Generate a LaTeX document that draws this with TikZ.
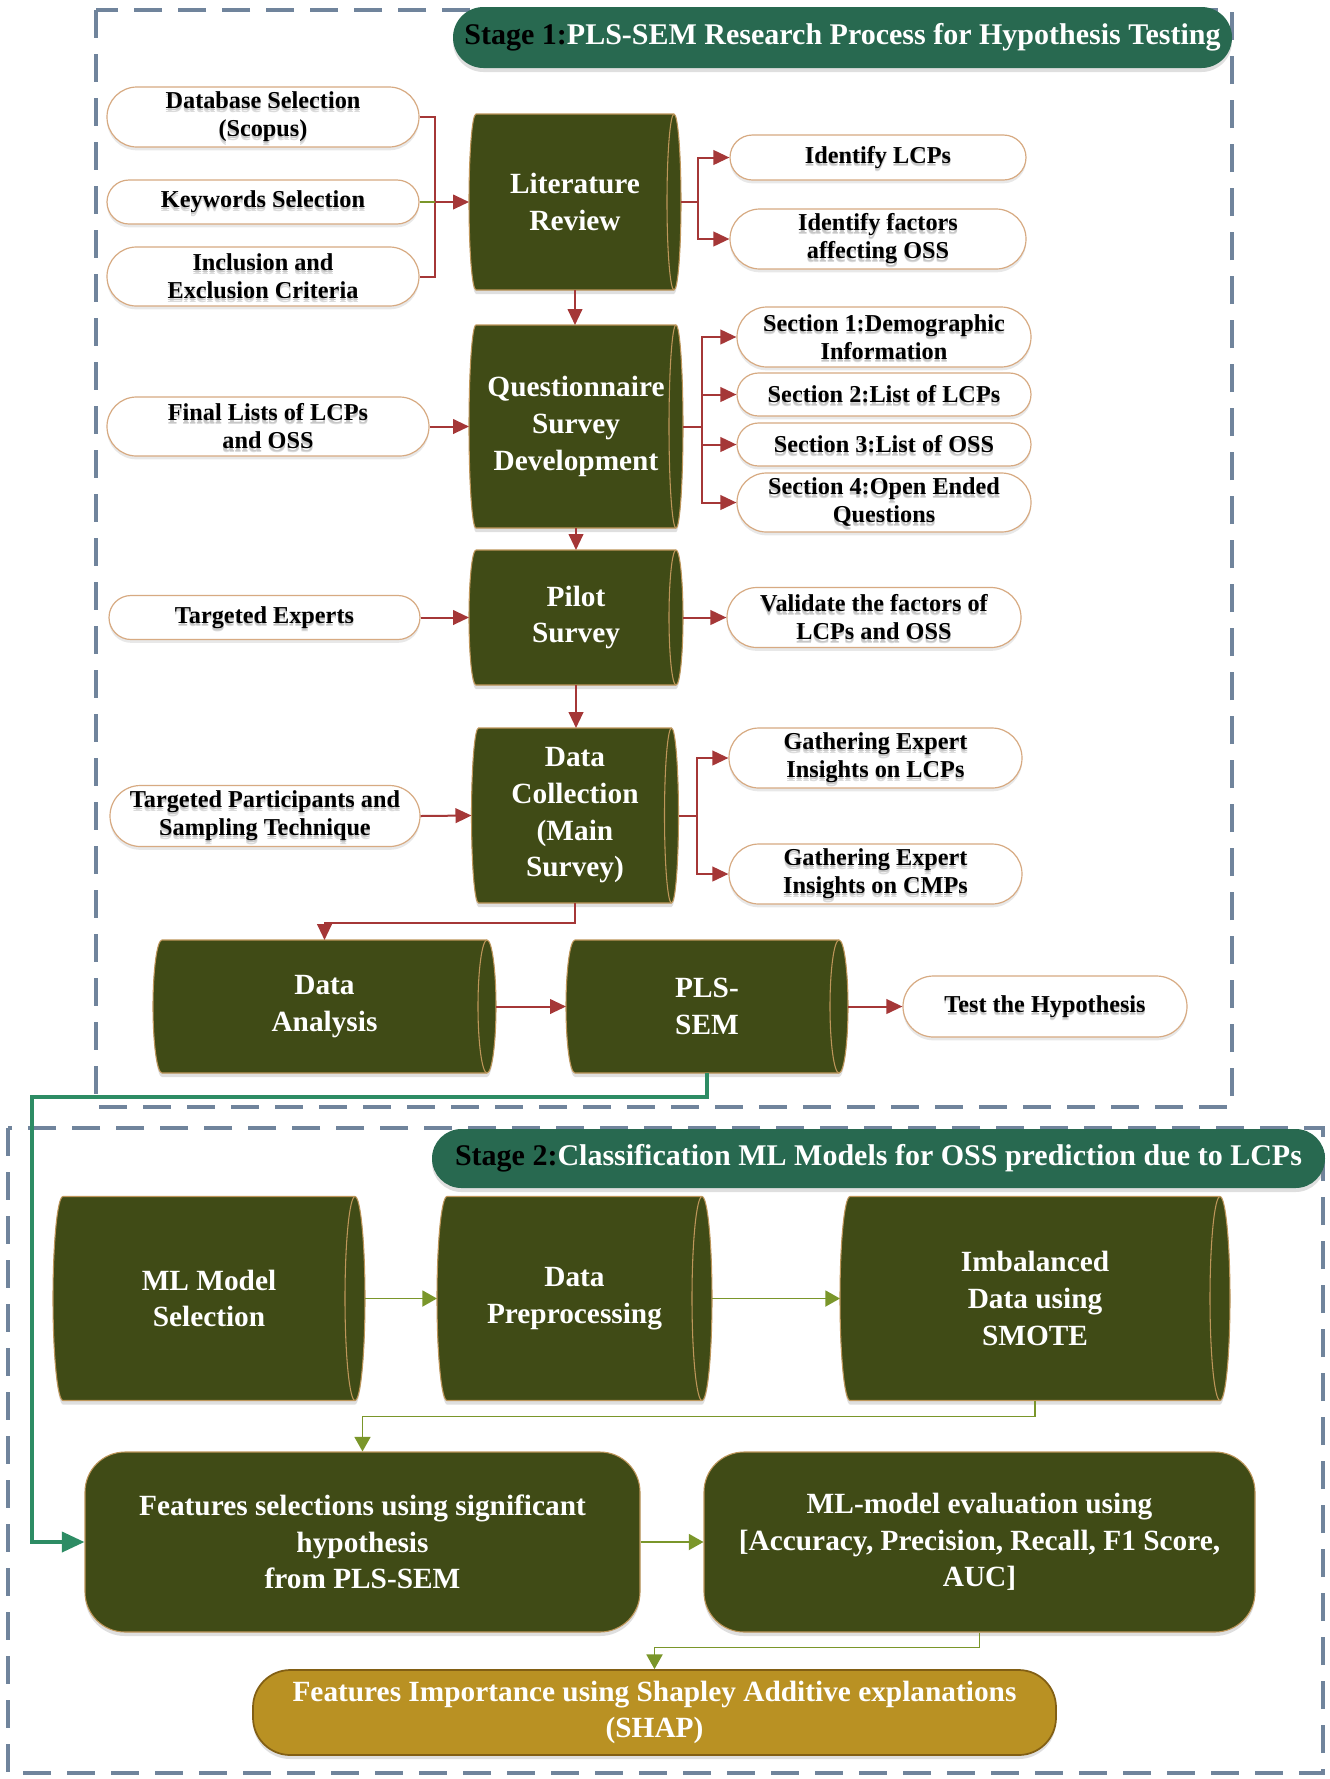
\documentclass[tikz,border=0pt]{standalone}
\usepackage{fontspec}
\setmainfont{Liberation Serif}
\usetikzlibrary{shapes.misc,arrows.meta,backgrounds,shadows}

\definecolor{cylfill}{RGB}{64,75,22}
\definecolor{tanrim}{RGB}{190,150,90}
\definecolor{pillrim}{RGB}{215,170,130}
\definecolor{flowred}{RGB}{165,55,55}
\definecolor{flowgreen}{RGB}{122,150,42}
\definecolor{linkteal}{RGB}{45,140,100}
\definecolor{stagegreen}{RGB}{40,105,80}
\definecolor{frameblue}{RGB}{112,132,156}
\definecolor{shapgold}{RGB}{185,145,35}
\definecolor{shaprim}{RGB}{130,95,20}

\newcommand\pilltext{\fontsize{18.2pt}{21pt}\selectfont\bfseries}
\newcommand\cyltext{\fontsize{22pt}{27.5pt}\selectfont\bfseries}
\newcommand\titletext{\fontsize{22.5pt}{27pt}\selectfont\bfseries}
% one line of dark text with a soft grey shadow beneath it
\newcommand\sline[1]{\leavevmode
  \rlap{\raisebox{-2.6pt}[0pt][0pt]{\color{black!14}#1}}%
  \rlap{\raisebox{-1.6pt}[0pt][0pt]{\color{black!22}#1}}#1}

% body of a lying cylinder behind a named node: name, end radius (px), half height (px)
\newcommand\drawcyl[3]{%
  \draw[cylbody] ([xshift=#2*0.75pt]#1.north west) -- ([xshift=-#2*0.75pt]#1.north east)
    arc[start angle=90,end angle=-90,x radius=#2*0.75pt,y radius=#3*0.75pt]
    -- ([xshift=#2*0.75pt]#1.south west)
    arc[start angle=270,end angle=90,x radius=#2*0.75pt,y radius=#3*0.75pt] -- cycle;
  \draw[cylrim] ([xshift=-#2*0.75pt]#1.north east)
    arc[start angle=90,end angle=270,x radius=#2*0.75pt,y radius=#3*0.75pt];
}

\tikzset{
  wd/.style={minimum width=#1*0.75pt},
  ht/.style={minimum height=#1*0.75pt},
  pill/.style={rounded rectangle, draw=pillrim, line width=0.9pt, fill=white,
    align=center, inner sep=0pt, font=\pilltext,
    drop shadow={shadow xshift=0pt, shadow yshift=-2.5pt, opacity=0.18}},
  cylnode/.style={rectangle, inner sep=0pt, outer sep=0pt, align=center,
    text=white, font=\cyltext},
  cylbody/.style={fill=cylfill, draw=tanrim, line width=0.8pt,
    drop shadow={shadow xshift=0pt, shadow yshift=-3pt, opacity=0.25}},
  cylrim/.style={draw=tanrim, line width=0.8pt},
  bigbox/.style={rectangle, rounded corners=30pt, fill=cylfill, draw=tanrim,
    line width=0.8pt, align=center, text=white, font=\cyltext, inner sep=0pt,
    drop shadow={shadow xshift=0pt, shadow yshift=-3pt, opacity=0.25}},
  shapbox/.style={rectangle, rounded corners=28pt, fill=shapgold, draw=shaprim,
    line width=1.3pt, align=center, text=white, font=\cyltext, inner sep=0pt,
    drop shadow={shadow xshift=0pt, shadow yshift=-3pt, opacity=0.25}},
  stagetitle/.style={rounded rectangle, fill=stagegreen, align=center, inner sep=0pt,
    text=white, font=\titletext,
    drop shadow={shadow xshift=0pt, shadow yshift=-3pt, opacity=0.25}},
  frame/.style={draw=frameblue, line width=2.6pt, dash pattern=on 21pt off 12pt},
  redline/.style={draw=flowred, line width=1.5pt},
  redarrow/.style={redline, -{Triangle[length=12pt,width=11pt]}},
  greenline/.style={draw=flowgreen, line width=1.4pt},
  greenarrow/.style={greenline, -{Triangle[length=11pt,width=12pt]}},
  tealarrow/.style={draw=linkteal, line width=3pt, -{Triangle[length=17pt,width=15pt]}},
}

\begin{document}
\begin{tikzpicture}[x=0.75pt,y=-0.75pt]
\useasboundingbox (0,0) rectangle (1329,1779);

% ---------- Stage 1 ----------
\node[stagetitle, wd=779, ht=61] (t1) at (842.5,37.5)
  {{\color{black}Stage 1:}PLS-SEM Research Process for Hypothesis Testing};

\node[pill, wd=312, ht=60] (db)  at (263,117)   {\sline{Database Selection}\\\sline{(Scopus)}};
\node[pill, wd=312, ht=44] (kw)  at (263,202)   {\sline{Keywords Selection}};
\node[pill, wd=312, ht=59] (inc) at (263,276.5) {\sline{Inclusion and}\\\sline{Exclusion Criteria}};
\node[cylnode, wd=212, ht=176] (lit) at (575,202) {Literature\\Review};
\node[pill, wd=296, ht=45] (id1) at (878,157.5) {\sline{Identify LCPs}};
\node[pill, wd=296, ht=60] (id2) at (878,239)   {\sline{Identify factors}\\\sline{affecting OSS}};

\node[pill, wd=322, ht=59] (fin) at (268,426.5) {\sline{Final Lists of LCPs}\\\sline{and OSS}};
\node[cylnode, wd=214, ht=203] (quest) at (576,426.5) {Questionnaire\\Survey\\Development};
\node[pill, wd=294, ht=60] (sec1) at (884,337)   {\sline{Section 1:Demographic}\\\sline{Information}};
\node[pill, wd=294, ht=43] (sec2) at (884,394.5) {\sline{Section 2:List of LCPs}};
\node[pill, wd=294, ht=43] (sec3) at (884,444.5) {\sline{Section 3:List of OSS}};
\node[pill, wd=294, ht=59] (sec4) at (884,502.5) {\sline{Section 4:Open Ended}\\\sline{Questions}};

\node[pill, wd=311, ht=44] (te) at (264.5,617.5) {\sline{Targeted Experts}};
\node[cylnode, wd=214, ht=135] (pilot) at (576,617.5) {Pilot\\Survey};
\node[pill, wd=294, ht=60] (val) at (874,617.5) {\sline{Validate the factors of}\\\sline{LCPs and OSS}};

\node[pill, wd=310, ht=61] (tp) at (265,816) {\sline{Targeted Participants and}\\\sline{Sampling Technique}};
\node[cylnode, wd=207, ht=175] (dc) at (575,815.5) {Data\\Collection\\(Main\\Survey)};
\node[pill, wd=293, ht=60] (g1) at (875.5,758) {\sline{Gathering Expert}\\\sline{Insights on LCPs}};
\node[pill, wd=293, ht=60] (g2) at (875.5,874) {\sline{Gathering Expert}\\\sline{Insights on CMPs}};

\node[cylnode, wd=343, ht=133] (da)  at (324.5,1006.5) {Data\\Analysis};
\node[cylnode, wd=282, ht=133] (sem) at (707,1006.5)   {PLS-\\SEM};
\node[pill, wd=284, ht=61] (th) at (1045,1006.5) {\sline{Test the Hypothesis}};

% ---------- Stage 2 ----------
\node[stagetitle, wd=893, ht=59] (t2) at (878.5,1158.5)
  {{\color{black}Stage 2:}Classification ML Models for OSS prediction due to LCPs};

\node[cylnode, wd=312, ht=204] (mls) at (209,1298.5) {ML Model\\Selection};
\node[cylnode, wd=275, ht=204] (dp)  at (574.5,1298.5) {Data\\Preprocessing};
\node[cylnode, wd=390, ht=204] (imb) at (1035,1298.5)  {Imbalanced\\Data using\\SMOTE};

\node[bigbox, wd=555, ht=180] (feat) at (362.5,1542)
  {Features selections using significant\\hypothesis\\from PLS-SEM};
\node[bigbox, wd=551, ht=180] (eval) at (979.5,1542)
  {ML-model evaluation using\\{[}Accuracy, Precision, Recall, F1 Score,\\AUC{]}};
\node[shapbox, wd=803, ht=85] (shap) at (654.5,1712.5)
  {Features Importance using Shapley Additive explanations\\(SHAP)};

% ---------- page, frames and cylinder bodies ----------
\begin{scope}[on background layer]
  \fill[white] (0,0) rectangle (1329,1779);
  \draw[frame] (96,10) rectangle (1232,1107);
  \draw[frame] (8,1128) rectangle (1323,1773);
  \drawcyl{lit}{7}{88}
  \drawcyl{quest}{7}{101.5}
  \drawcyl{pilot}{7}{67.5}
  \drawcyl{dc}{7}{87.5}
  \drawcyl{da}{9}{66.5}
  \drawcyl{sem}{9}{66.5}
  \drawcyl{mls}{10}{102}
  \drawcyl{dp}{10}{102}
  \drawcyl{imb}{10}{102}
\end{scope}

% ---------- connectors, stage 1 ----------
\coordinate (jl) at (435,202);
\draw[redline] (db.east) -| (jl) |- (inc.east);
\draw[greenline] (kw.east) -- (jl);
\draw[redarrow] (jl) -- (lit.west);

\coordinate (jr) at (698,202);
\draw[redline] (lit.east) -- (jr);
\draw[redarrow] (jr) |- (id1.west);
\draw[redarrow] (jr) |- (id2.west);

\draw[redarrow] (lit.south) -- (lit.south |- quest.north);
\draw[redarrow] (fin.east) -- (quest.west);

\coordinate (jq) at (702,426.5);
\draw[redline] (quest.east) -- (jq);
\draw[redarrow] (jq) |- (sec1.west);
\draw[redarrow] (jq) |- (sec2.west);
\draw[redarrow] (jq) |- (sec3.west);
\draw[redarrow] (jq) |- (sec4.west);

\draw[redarrow] (quest.south) -- (quest.south |- pilot.north);
\draw[redarrow] (te.east) -- (pilot.west);
\draw[redarrow] (pilot.east) -- (val.west);
\draw[redarrow] (pilot.south) -- (pilot.south |- dc.north);

\draw[redarrow] (tp.east) -- (dc.west);
\coordinate (jd) at (697,815.5);
\draw[redline] (dc.east) -- (jd);
\draw[redarrow] (jd) |- (g1.west);
\draw[redarrow] (jd) |- (g2.west);

\draw[redarrow] (dc.south) -- ++(0,20) -| (da.north);
\draw[redarrow] (da.east) -- (sem.west);
\draw[redarrow] (sem.east) -- (th.west);

% ---------- link from PLS-SEM into stage 2 ----------
\coordinate (tc) at (32,1097);
\draw[tealarrow] (sem.south) |- (tc) |- (feat.west);

% ---------- connectors, stage 2 ----------
\draw[greenarrow] (mls.east) -- (dp.west);
\draw[greenarrow] (dp.east) -- (imb.west);
\draw[greenarrow] (imb.south) -- ++(0,16) -| (feat.north);
\draw[greenarrow] (feat.east) -- (eval.west);
\draw[greenarrow] (eval.south) -- ++(0,15) -| (shap.north);
\end{tikzpicture}
\end{document}
